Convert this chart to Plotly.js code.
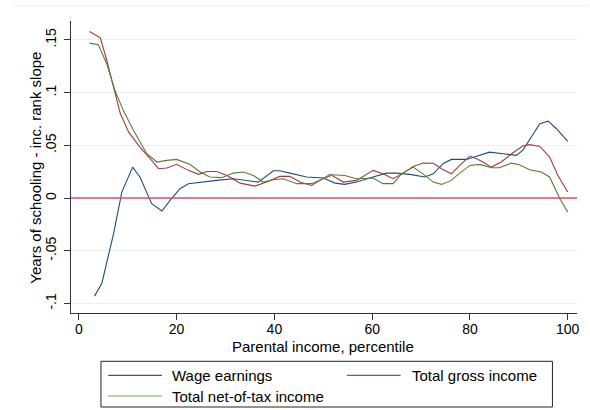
<!DOCTYPE html>
<html>
<head>
<meta charset="utf-8">
<script src="https://cdn.plot.ly/plotly-3.0.1.min.js"></script>
<style>html,body{margin:0;padding:0;background:#fff;}#chart{width:590px;height:410px;}</style>
</head>
<body>
<div id="chart"></div>
<script>
// Wage earnings (blue)
var wageX = [3.2, 4.7, 7.1, 8.8, 11.0, 12.5, 14.9, 17.0, 18.7, 20.7, 22.4, 24.7, 28.2, 31.6, 36.7, 39.8, 41.1, 43.2, 46.6, 50.0, 52.4, 54.4, 56.8, 60.2, 62.9, 64.9, 67.7, 70.8, 72.5, 74.5, 76.2, 79.3, 81.3, 84.0, 86.8, 89.5, 90.8, 92.9, 94.3, 96.0, 97.7, 100.0];
var wageY = [-0.093, -0.081, -0.034, 0.0057, 0.0294, 0.020, -0.0053, -0.0123, -0.002, 0.0089, 0.0137, 0.0152, 0.0168, 0.0184, 0.0152, 0.026, 0.026, 0.0237, 0.020, 0.019, 0.0142, 0.013, 0.0152, 0.020, 0.0237, 0.0237, 0.0225, 0.020, 0.023, 0.0326, 0.0367, 0.0367, 0.0396, 0.0436, 0.042, 0.0405, 0.0453, 0.061, 0.0706, 0.073, 0.0658, 0.0538];

// Total gross income (red)
var grossX = [2.2, 4.4, 5.7, 7.1, 8.5, 10.2, 12.5, 14.6, 16.3, 18.0, 20.0, 22.4, 24.5, 26.2, 28.2, 30.3, 33.0, 36.0, 38.4, 41.1, 43.2, 45.2, 47.6, 51.4, 54.1, 56.8, 60.2, 62.2, 64.3, 66.3, 68.4, 70.4, 72.5, 74.2, 76.2, 77.9, 80.0, 82.0, 84.4, 86.4, 88.5, 90.8, 92.2, 94.3, 96.3, 98.0, 100.0];
var grossY = [0.158, 0.152, 0.131, 0.105, 0.080, 0.0626, 0.0484, 0.0374, 0.0279, 0.0285, 0.032, 0.0263, 0.0225, 0.0253, 0.0253, 0.0215, 0.0142, 0.0114, 0.0152, 0.0206, 0.0206, 0.0152, 0.012, 0.0225, 0.0152, 0.0168, 0.0263, 0.023, 0.0184, 0.0237, 0.030, 0.0332, 0.033, 0.0279, 0.023, 0.031, 0.0399, 0.0358, 0.0294, 0.0342, 0.0421, 0.0494, 0.0507, 0.049, 0.0389, 0.0215, 0.0057];

// Total net-of-tax income (green)
var netX = [2.2, 4.0, 5.7, 7.4, 9.1, 11.2, 13.9, 16.0, 18.0, 20.0, 22.7, 24.8, 26.8, 29.2, 31.6, 33.7, 35.7, 37.7, 39.8, 41.8, 44.6, 47.6, 50.0, 52.0, 54.4, 56.8, 60.2, 62.2, 64.3, 66.0, 68.4, 70.4, 72.5, 74.2, 76.2, 77.9, 80.0, 82.0, 84.4, 86.0, 88.5, 90.1, 92.2, 94.6, 96.3, 98.4, 100.0];
var netY = [0.147, 0.1455, 0.1275, 0.102, 0.083, 0.0642, 0.0421, 0.0342, 0.0358, 0.0367, 0.032, 0.0247, 0.020, 0.0194, 0.0237, 0.0247, 0.0215, 0.0152, 0.0174, 0.0184, 0.0137, 0.0137, 0.0184, 0.0222, 0.0215, 0.0184, 0.019, 0.0137, 0.0137, 0.023, 0.0294, 0.023, 0.0152, 0.013, 0.0168, 0.0237, 0.031, 0.032, 0.0288, 0.0288, 0.0332, 0.0317, 0.0269, 0.0247, 0.020, -0.0006, -0.0133];

var seriesNames = ["Wage earnings", "Total gross income", "Total net-of-tax income"];
var xTitle = "Parental income, percentile";
var yTitle = "Years of schooling - inc. rank slope";
var xTickVals = [0, 20, 40, 60, 80, 100];
var xTickText = ["0", "20", "40", "60", "80", "100"];
var yTickVals = [-0.1, -0.05, 0, 0.05, 0.1, 0.15];
var yTickText = ["-.1", "-.05", "0", ".05", ".1", ".15"];
var xRange = [-1.6, 101.9];
var yRange = [-0.109, 0.168];

var FONT = "Liberation Sans, Arial, sans-serif";
var colors = ["#1f4e79", "#a13a44", "#5a7d33"];
var legColors = ["#2b5a8a", "#b0434c", "#7f9f62"];

var traces = [
  {x: wageX, y: wageY, name: seriesNames[0]},
  {x: grossX, y: grossY, name: seriesNames[1]},
  {x: netX, y: netY, name: seriesNames[2]}
].map(function (t, i) {
  t.type = "scatter"; t.mode = "lines";
  t.line = {color: colors[i], width: 1.1};
  return t;
});

// Plot area in pixels: x 70.7..577.3, y 20.7..312.7
var PL = 70.7, PR = 577.3, PT = 20.7, PB = 312.7;
function px(x) { return (x - PL) / (PR - PL); }
function py(y) { return (PB - y) / (PB - PT); }

// Manual legend (box, samples, labels)
var legItems = [
  {x0: 108, x1: 161.7, tx: 170, y: 375},
  {x0: 347, x1: 400.7, tx: 410, y: 375},
  {x0: 108, x1: 161.7, tx: 170, y: 395.7}
];
var shapes = [
  {type: "line", xref: "paper", yref: "paper", x0: px(12), x1: px(590), y0: py(5.5), y1: py(5.5),
   line: {color: "#eef0f4", width: 1}},
  {type: "line", xref: "paper", yref: "y", x0: 0, x1: 1, y0: 0, y1: 0, layer: "above",
   line: {color: "#d9506e", width: 1.5}},
  {type: "rect", xref: "paper", yref: "paper", x0: px(100.7), x1: px(552.7), y0: py(406.7), y1: py(361),
   line: {color: "#222", width: 1}, fillcolor: "rgba(0,0,0,0)"}
];
var annotations = [
  {xref: "paper", yref: "paper", x: px(323), y: py(346), xanchor: "center", yanchor: "middle",
   text: xTitle, showarrow: false, font: {family: FONT, size: 15, color: "#000"}},
  {xref: "paper", yref: "paper", x: px(35.5), y: py(167.5), xanchor: "center", yanchor: "middle",
   textangle: -90, text: yTitle, showarrow: false, font: {family: FONT, size: 15, color: "#000"}}
];
legItems.forEach(function (it, i) {
  shapes.push({type: "line", xref: "paper", yref: "paper", x0: px(it.x0), x1: px(it.x1), y0: py(it.y), y1: py(it.y),
    line: {color: legColors[i], width: 1.2}});
  annotations.push({xref: "paper", yref: "paper", x: px(it.tx), y: py(it.y), xanchor: "left", yanchor: "middle",
    text: seriesNames[i], showarrow: false, font: {family: FONT, size: 15, color: "#000"}});
});

var layout = {
  width: 590, height: 410,
  margin: {l: 70.7, r: 12.7, t: 20.7, b: 97.3},
  paper_bgcolor: "#ffffff", plot_bgcolor: "#ffffff",
  font: {family: FONT, size: 15, color: "#000"},
  showlegend: false,
  xaxis: {
    range: xRange, tickmode: "array", tickvals: xTickVals, ticktext: xTickText,
    showgrid: false, zeroline: false, showline: true, linecolor: "#333", linewidth: 1,
    ticks: "outside", ticklen: 6, tickcolor: "#333", ticklabelstandoff: -3,
    tickfont: {family: FONT, size: 14}
  },
  yaxis: {
    range: yRange, tickmode: "array", tickvals: yTickVals, ticktext: yTickText,
    tickangle: -90,
    showgrid: true, gridcolor: "#eaeff4", gridwidth: 1,
    zeroline: false,
    showline: true, linecolor: "#333", linewidth: 1,
    ticks: "outside", ticklen: 6, tickcolor: "#333", ticklabelstandoff: 2,
    tickfont: {family: FONT, size: 14}
  },
  shapes: shapes,
  annotations: annotations
};

Plotly.newPlot("chart", traces, layout, {displayModeBar: false, staticPlot: true});
</script>
</body>
</html>
